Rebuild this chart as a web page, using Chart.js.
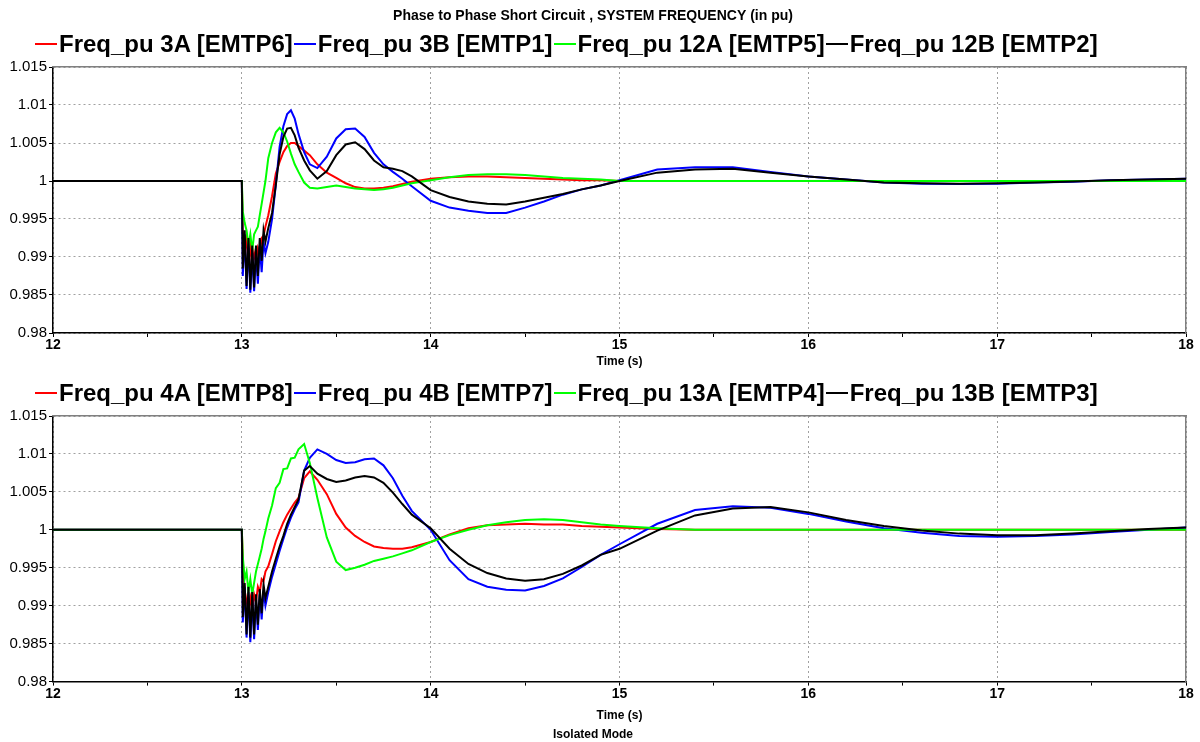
<!DOCTYPE html>
<html>
<head>
<meta charset="utf-8">
<title>Phase to Phase Short Circuit - System Frequency</title>
<script src="https://cdn.jsdelivr.net/npm/chart.js@4.4.1/dist/chart.umd.min.js"></script>
<style>
  html, body { margin: 0; padding: 0; background: #fff; }
  #wrap { position: relative; width: 1200px; height: 742px; }
  .panel { position: absolute; left: 0; width: 1200px; }
  #panelTop { top: 0; height: 372px; }
  #panelBottom { top: 372px; height: 370px; }
  .legend {
    position: absolute; left: 35px; height: 28px;
    display: flex; align-items: center; white-space: nowrap;
    font: bold 24px "Liberation Sans", Arial, Helvetica, sans-serif; color: #000;
  }
  #legendTop { top: 30px; }
  #legendBottom { top: 379px; }
  .legend .item { display: flex; align-items: center; margin-right: 1px; }
  .legend .swatch { display: inline-block; width: 22px; height: 2px; margin-right: 2px; }
</style>
</head>
<body>
<div id="wrap">
  <div class="panel" id="panelTop"><canvas id="chartTop" width="1200" height="372"></canvas></div>
  <div class="panel" id="panelBottom"><canvas id="chartBottom" width="1200" height="370"></canvas></div>
  <div class="legend" id="legendTop"></div>
  <div class="legend" id="legendBottom"></div>
</div>
<script>
const titleText = 'Phase to Phase Short Circuit , SYSTEM FREQUENCY (in pu)';
const xTitle = 'Time (s)';
const footText = 'Isolated Mode';

const xMin = 12, xMax = 18;
const yMin = 0.98, yMax = 1.015, yStep = 0.005;

const labelsTop = ['Freq_pu 3A [EMTP6]', 'Freq_pu 3B [EMTP1]', 'Freq_pu 12A [EMTP5]', 'Freq_pu 12B [EMTP2]'];
const labelsBottom = ['Freq_pu 4A [EMTP8]', 'Freq_pu 4B [EMTP7]', 'Freq_pu 13A [EMTP4]', 'Freq_pu 13B [EMTP3]'];
const lineColors = ['#ff0000', '#0000ff', '#00ff00', '#000000'];

// sample times (s), shared by all eight traces
const timeS = [12, 13,
  13.005, 13.015, 13.025, 13.035, 13.045, 13.055, 13.065, 13.075, 13.085, 13.095, 13.105, 13.115, 13.125,
  13.14, 13.16, 13.18, 13.2, 13.22, 13.24, 13.26, 13.28, 13.3,
  13.33, 13.36,
  13.4, 13.45, 13.5, 13.55, 13.6, 13.65, 13.7, 13.75, 13.8, 13.85, 13.9,
  14, 14.1, 14.2, 14.3, 14.4, 14.5, 14.6, 14.7, 14.8, 14.9, 15,
  15.2, 15.4, 15.6, 15.8, 16, 16.2, 16.4, 16.6, 16.8, 17, 17.2, 17.4, 17.6, 17.8, 18];

// top panel
const freq3A = [1, 1,
  0.9935, 0.9905, 0.9925, 0.9893, 0.9915, 0.9888, 0.9905, 0.9893, 0.9912, 0.9905, 0.9925, 0.9928, 0.9940,
  0.9955, 0.9980, 1.0010, 1.0025, 1.0038, 1.0046, 1.0050, 1.0050, 1.0046,
  1.0040, 1.0034,
  1.0022, 1.0011, 1.0004, 0.9997, 0.9992, 0.9990, 0.9990, 0.9991, 0.9993, 0.9996, 0.9999,
  1.0003, 1.0005, 1.0006, 1.0006, 1.0005, 1.0004, 1.0003, 1.0002, 1.0001, 1.0001, 1.0,
  1, 1, 1, 1, 1, 1, 1, 1, 1, 1, 1, 1, 1, 1, 1];
const freq3B = [1, 1,
  0.9875, 0.9930, 0.9858, 0.9920, 0.9853, 0.9905, 0.9855, 0.9905, 0.9865, 0.9915, 0.9880, 0.9920, 0.9905,
  0.9920, 0.9950, 0.9995, 1.0045, 1.0072, 1.0088, 1.0093, 1.0082, 1.0062,
  1.0038, 1.0022,
  1.0017, 1.0032, 1.0056, 1.0068, 1.0069, 1.0058, 1.0037, 1.0022, 1.0012, 1.0003, 0.9993,
  0.9974, 0.9965, 0.9961, 0.9958, 0.9958, 0.9965, 0.9973, 0.9982, 0.9989, 0.9994, 1.0001,
  1.0015, 1.0018, 1.0018, 1.0012, 1.0006, 1.0002, 0.9998, 0.99965, 0.9996, 0.99965, 0.9998, 0.9999, 1.0001, 1.0002, 1.0003];
const freq12A = [1, 1,
  0.9960, 0.9945, 0.9935, 0.9915, 0.9930, 0.9908, 0.9930, 0.9935, 0.9940, 0.9955, 0.9970, 0.9985, 1.0000,
  1.0030, 1.0050, 1.0064, 1.0070, 1.0064, 1.0052, 1.0036, 1.0022, 1.0012,
  0.9998, 0.9991,
  0.9990, 0.9992, 0.9994, 0.9992, 0.9990, 0.9989, 0.9988, 0.9989, 0.9991, 0.9994, 0.9997,
  1.0001, 1.0005, 1.0008, 1.0009, 1.0009, 1.0008, 1.0006, 1.0004, 1.0003, 1.0002, 1.0,
  1, 1, 1, 1, 1, 1, 1, 1, 1, 1, 1, 1, 1, 1, 1];
const freq12B = [1, 1,
  0.9885, 0.9935, 0.9862, 0.9925, 0.9857, 0.9915, 0.9860, 0.9915, 0.9875, 0.9925, 0.9895, 0.9935, 0.9920,
  0.9938, 0.9958, 0.9995, 1.0035, 1.0058, 1.0069, 1.0070, 1.0060, 1.0044,
  1.0027, 1.0014,
  1.0003, 1.0013, 1.0034, 1.0048, 1.0051, 1.0042, 1.0027, 1.0018, 1.0016, 1.0013, 1.0006,
  0.9988, 0.9979, 0.9973, 0.9970, 0.9969, 0.9973, 0.9978, 0.9983, 0.9989, 0.9994, 1.0,
  1.0011, 1.0015, 1.0016, 1.0011, 1.0006, 1.0002, 0.9998, 0.9997, 0.99965, 0.9997, 0.9998, 0.99995, 1.0001, 1.0002, 1.0003];

// bottom panel
const freq4A = [1, 1,
  0.9960, 0.9920, 0.9905, 0.9895, 0.9910, 0.9893, 0.9915, 0.9905, 0.9925, 0.9918, 0.9935, 0.9932, 0.9945,
  0.9952, 0.9968, 0.9985, 0.9998, 1.0010, 1.0020, 1.0028, 1.0036, 1.0042,
  1.0068, 1.0077,
  1.0066, 1.0047, 1.0021, 1.0003, 0.9992, 0.9984, 0.9978, 0.9976, 0.9975, 0.9975, 0.9977,
  0.9984, 0.9994, 1.0002, 1.0006, 1.0007, 1.0008, 1.0007, 1.0007, 1.0005, 1.0004, 1.0003,
  1.0001, 1, 1, 1, 1, 1, 1, 1, 1, 1, 1, 1, 1, 1, 1];
const freq4B = [1, 1,
  0.9878, 0.9925, 0.9858, 0.9918, 0.9852, 0.9910, 0.9856, 0.9908, 0.9868, 0.9915, 0.9882, 0.9920, 0.9900,
  0.9918, 0.9938, 0.9955, 0.9972, 0.9988, 1.0003, 1.0016, 1.0027, 1.0036,
  1.0078, 1.0095,
  1.0106, 1.0100, 1.0092, 1.0088, 1.0089, 1.0093, 1.0094, 1.0085, 1.0068, 1.0045, 1.0025,
  1.0000, 0.9960, 0.9935, 0.9925, 0.9921, 0.9920, 0.9926, 0.9936, 0.9951, 0.9967, 0.9981,
  1.0008, 1.0026, 1.0031, 1.0029, 1.0021, 1.0011, 1.0002, 0.9996, 0.9992, 0.9991, 0.9992, 0.9994, 0.9997, 1.0000, 1.0003];
const freq13A = [1, 1,
  0.9965, 0.9935, 0.9945, 0.9918, 0.9935, 0.9915, 0.9930, 0.9945, 0.9955, 0.9965, 0.9975, 0.9988, 0.9998,
  1.0015, 1.0032, 1.0055, 1.0062, 1.0080, 1.0081, 1.0094, 1.0095, 1.0106,
  1.0113, 1.0088,
  1.0042, 0.9990, 0.9958, 0.9947, 0.9950, 0.9954, 0.9959, 0.9962, 0.9965, 0.9969, 0.9973,
  0.9984, 0.9993, 1.0000, 1.0006, 1.0010, 1.0013, 1.0014, 1.0013, 1.0010, 1.0007, 1.0005,
  1.0002, 1, 1, 1, 1, 1, 1, 1, 1, 1, 1, 1, 1, 1, 1];
const freq13B = [1, 1,
  0.9885, 0.9930, 0.9862, 0.9925, 0.9858, 0.9918, 0.9862, 0.9915, 0.9875, 0.9922, 0.9890, 0.9928, 0.9910,
  0.9925, 0.9945, 0.9962, 0.9978, 0.9992, 1.0008, 1.0020, 1.0030, 1.0040,
  1.0078, 1.0084,
  1.0074, 1.0067, 1.0063, 1.0065, 1.0069, 1.0071, 1.0069, 1.0062, 1.0049, 1.0034, 1.0020,
  1.0002, 0.9975, 0.9955, 0.9943, 0.9936, 0.9933, 0.9935, 0.9942, 0.9953, 0.9967, 0.9975,
  0.9999, 1.0019, 1.0028, 1.0030, 1.0023, 1.0013, 1.0005, 0.9999, 0.9995, 0.9993, 0.9993, 0.9995, 0.9998, 1.0001, 1.0003];

Chart.defaults.font.family = '"Liberation Sans", Arial, Helvetica, sans-serif';
Chart.defaults.color = '#000';

function makeDatasets(labels, series) {
  return series.map(function (vals, i) {
    return {
      label: labels[i],
      data: timeS.map(function (t, k) { return { x: t, y: vals[k] }; }),
      borderColor: lineColors[i],
      backgroundColor: lineColors[i],
      borderWidth: 2,
      pointRadius: 0,
      tension: 0,
      order: series.length - 1 - i
    };
  });
}

function makeOptions(cfg) {
  return {
    responsive: false,
    animation: false,
    devicePixelRatio: 1,
    events: [],
    layout: { padding: { top: cfg.topPad, right: 14, bottom: 0, left: 0 } },
    plugins: {
      title: cfg.title ? {
        display: true, text: cfg.title, color: '#000',
        font: { size: 14, weight: 'bold' },
        padding: { top: 8, bottom: 42.2 }
      } : { display: false },
      subtitle: cfg.foot ? {
        display: true, position: 'bottom', text: cfg.foot, color: '#000',
        font: { size: 12, weight: 'bold' },
        padding: { top: 2, bottom: 0 }
      } : { display: false },
      legend: { display: false },
      tooltip: { enabled: false }
    },
    scales: {
      x: {
        type: 'linear', min: xMin, max: xMax,
        afterFit: function (s) { s.height = cfg.xHeight; },
        ticks: {
          stepSize: 0.5, autoSkip: false, maxRotation: 0, padding: 0, color: '#000',
          font: { size: 14, weight: 'bold' },
          callback: function (v) { return Number.isInteger(v) ? String(v) : ''; }
        },
        grid: {
          color: function (c) { return c.tick && Number.isInteger(c.tick.value) ? '#a0a0a0' : 'rgba(0,0,0,0)'; },
          tickColor: '#000', tickLength: 4, tickWidth: 1, lineWidth: 1
        },
        border: { color: '#000', width: 1.5, dash: [2, 3] },
        title: {
          display: true, text: xTitle, color: '#000',
          font: { size: 12, weight: 'bold' },
          padding: { top: 0, bottom: 3 }
        }
      },
      y: {
        min: yMin, max: yMax,
        afterFit: function (s) { s.width = 53; },
        ticks: {
          stepSize: yStep, padding: 2, color: '#000',
          font: { size: 15 },
          callback: function (v) { return String(+v.toFixed(3)); }
        },
        grid: { color: '#a0a0a0', tickColor: '#000', tickLength: 4, tickWidth: 1, lineWidth: 1 },
        border: { color: '#000', width: 1.5, dash: [2, 3] }
      },
      xTop: {
        type: 'linear', position: 'top', min: xMin, max: xMax,
        afterFit: function (s) { s.height = 0; },
        ticks: { display: false },
        grid: { display: false, drawTicks: false },
        border: { color: '#808080', width: 1.5 }
      },
      yRight: {
        type: 'linear', position: 'right', min: yMin, max: yMax,
        afterFit: function (s) { s.width = 0; },
        ticks: { display: false },
        grid: { display: false, drawTicks: false },
        border: { color: '#808080', width: 1.5 }
      }
    }
  };
}

// legend row: line swatch right against the label, like the source plot
function buildLegend(el, chart) {
  chart.data.datasets.forEach(function (ds) {
    const item = document.createElement('span');
    item.className = 'item';
    const sw = document.createElement('span');
    sw.className = 'swatch';
    sw.style.background = ds.borderColor;
    const txt = document.createElement('span');
    txt.textContent = ds.label;
    item.appendChild(sw);
    item.appendChild(txt);
    el.appendChild(item);
  });
}

const chartTop = new Chart(document.getElementById('chartTop').getContext('2d'), {
  type: 'line',
  data: { datasets: makeDatasets(labelsTop, [freq3A, freq3B, freq12A, freq12B]) },
  options: makeOptions({ title: titleText, foot: null, topPad: 0, xHeight: 39 })
});

const chartBottom = new Chart(document.getElementById('chartBottom').getContext('2d'), {
  type: 'line',
  data: { datasets: makeDatasets(labelsBottom, [freq4A, freq4B, freq13A, freq13B]) },
  options: makeOptions({ title: null, foot: footText, topPad: 44, xHeight: 44 })
});

buildLegend(document.getElementById('legendTop'), chartTop);
buildLegend(document.getElementById('legendBottom'), chartBottom);
</script>
</body>
</html>
